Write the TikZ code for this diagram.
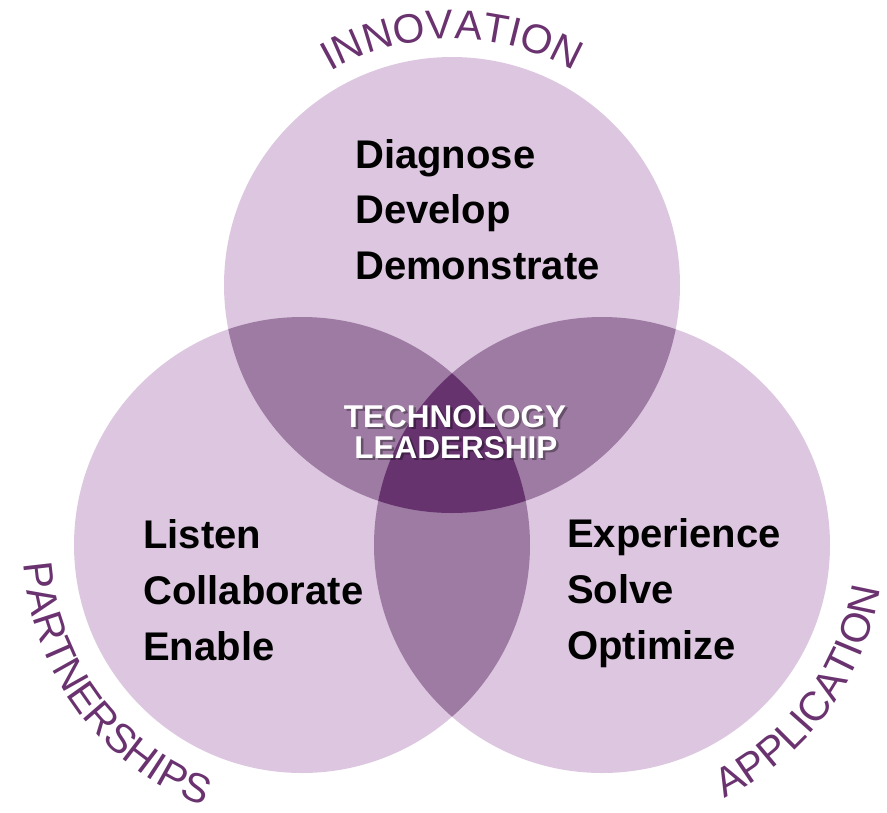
\documentclass[tikz,border=0pt]{standalone}
\usepackage{fontspec}
\setmainfont{Liberation Sans}
\usetikzlibrary{decorations.text}
\definecolor{lightp}{HTML}{DDC7E0}
\definecolor{midp}{HTML}{9E7BA3}
\definecolor{darkp}{HTML}{66336F}
\definecolor{purp}{HTML}{6A3370}
\begin{document}
\begin{tikzpicture}[x=1pt,y=1pt,
  item/.style={anchor=base west, inner sep=0pt, font=\fontsize{40}{48}\selectfont\bfseries},
  ctext/.style={anchor=base, inner sep=0pt, text=white, font=\fontsize{31.5}{32}\selectfont\bfseries},
  cshadow/.style={anchor=base, inner sep=0pt, text=black, opacity=0.35, font=\fontsize{31.5}{32}\selectfont\bfseries},
  arctext/.style={decorate, decoration={text along path, text align=center, text color=purp, text={|\fontsize{41}{41}\selectfont|#1}}}
]
\useasboundingbox (0,0) rectangle (887,-812);
\def\circTop{(452,-285) circle[radius=228]}
\def\circLeft{(302,-545) circle[radius=228]}
\def\circRight{(602,-545) circle[radius=228]}
\fill[lightp] \circTop;
\fill[lightp] \circLeft;
\fill[lightp] \circRight;
\begin{scope}\clip \circTop; \fill[midp] \circLeft; \fill[midp] \circRight; \end{scope}
\begin{scope}\clip \circLeft; \fill[midp] \circRight; \end{scope}
\begin{scope}\clip \circTop; \clip \circLeft; \fill[darkp] \circRight; \end{scope}

% curved labels
\path[arctext=INNOVATION] (452,-285) ++(125:246) arc[start angle=125, end angle=55, radius=246];
\path[arctext=PARTNERSHIPS] (302,-545) ++(176:279) arc[start angle=176, end angle=257, radius=279];
\path[arctext=APPLICATION] (602,-545) ++(283:281) arc[start angle=283, end angle=364, radius=281];

% top circle
\node[item] (diag) at (355,-168) {Diagnose};
\node[item] (devl) at (355,-223) {Develop};
\node[item] (demo) at (355,-279) {Demonstrate};
% left circle
\node[item] (list) at (143,-548) {Listen};
\node[item] (coll) at (143,-604) {Collaborate};
\node[item] (enab) at (143,-660) {Enable};
% right circle
\node[item] (expe) at (567,-547) {Experience};
\node[item] (solv) at (567,-603) {Solve};
\node[item] (opti) at (567,-659) {Optimize};

% centre
\node[cshadow] (tech-s) at (457.5,-429.5) {TECHNOLOGY};
\node[cshadow] (lead-s) at (458.5,-460.5) {LEADERSHIP};
\node[ctext] (tech) at (455,-427) {TECHNOLOGY};
\node[ctext] (lead) at (456,-458) {LEADERSHIP};
\end{tikzpicture}
\end{document}
